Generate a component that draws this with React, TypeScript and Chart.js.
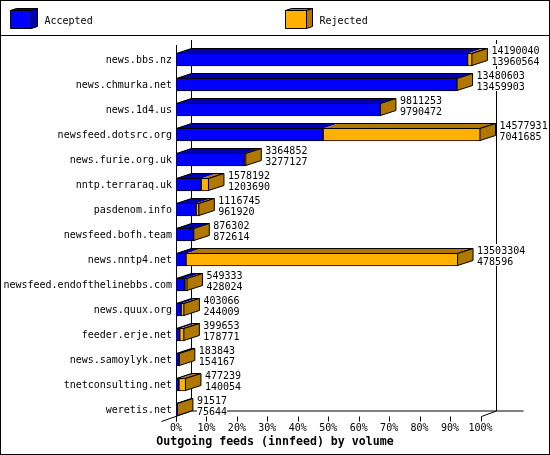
import React, { useEffect, useRef } from 'react';
import Chart from 'chart.js/auto';

const feeds = [
  'news.bbs.nz', 'news.chmurka.net', 'news.1d4.us', 'newsfeed.dotsrc.org', 'news.furie.org.uk',
  'nntp.terraraq.uk', 'pasdenom.info', 'newsfeed.bofh.team', 'news.nntp4.net',
  'newsfeed.endofthelinebbs.com', 'news.quux.org', 'feeder.erje.net', 'news.samoylyk.net',
  'tnetconsulting.net', 'weretis.net',
];

// upper number next to each bar
const offered = [
  14190040, 13480603, 9811253, 14577931, 3364852, 1578192, 1116745, 876302, 13503304,
  549333, 403066, 399653, 183843, 477239, 91517,
];

// lower number next to each bar
const accepted = [
  13960564, 13459903, 9790472, 7041685, 3277127, 1203690, 961920, 872614, 478596,
  428024, 244009, 178771, 154167, 140054, 75644,
];

const rejected = [
  229476, 20700, 20781, 7536246, 87725, 374502, 154825, 3688, 13024708,
  121309, 159057, 220882, 29676, 337185, 15873,
];

const tickPercents = [0, 10, 20, 30, 40, 50, 60, 70, 80, 90, 100];
const maxVolume = 14577931;

const BLUE = '#0000ff';
const BLUE_DARK = '#0000b0';
const ORANGE = '#ffb000';
const BROWN = '#b07800';
const FONT = '10px "DejaVu Sans Mono"';

// how far the back wall sits from the front of the bars
const DEPTH_X = 15;
const DEPTH_Y = 5;

const poly = (ctx: CanvasRenderingContext2D, pts: number[][], fill?: string, stroke?: boolean) => {
  ctx.beginPath();
  pts.forEach(([x, y], i) => (i ? ctx.lineTo(x, y) : ctx.moveTo(x, y)));
  ctx.closePath();
  if (fill) {
    ctx.fillStyle = fill;
    ctx.fill();
  }
  if (stroke) {
    ctx.strokeStyle = '#000';
    ctx.lineWidth = 1;
    ctx.stroke();
  }
};

const line = (ctx: CanvasRenderingContext2D, x1: number, y1: number, x2: number, y2: number) => {
  ctx.beginPath();
  ctx.moveTo(x1, y1);
  ctx.lineTo(x2, y2);
  ctx.strokeStyle = '#000';
  ctx.lineWidth = 1;
  ctx.stroke();
};

const legendBox = (ctx: CanvasRenderingContext2D, x: number, front: string, dark: string, label: string) => {
  const top = 10.5;
  const bottom = 28.5;
  const right = x + 21;
  poly(ctx, [[x, top], [x + 6, top - 2], [right + 6, top - 2], [right, top]], dark, true);
  poly(ctx, [[right, top], [right + 6, top - 2], [right + 6, bottom - 2], [right, bottom]], dark, true);
  poly(ctx, [[x, top], [right, top], [right, bottom], [x, bottom]], front, true);
  ctx.fillStyle = '#000';
  ctx.font = FONT;
  ctx.textAlign = 'left';
  ctx.textBaseline = 'middle';
  ctx.fillText(label, x + 34, 21);
};

const framePlugin = {
  id: 'frame',
  beforeDraw(chart: any) {
    const { ctx, width, height } = chart;
    ctx.save();
    ctx.fillStyle = '#fff';
    ctx.fillRect(0, 0, width, height);
    ctx.strokeStyle = '#000';
    ctx.lineWidth = 1;
    ctx.strokeRect(0.5, 0.5, width - 1, height - 1);
    line(ctx, 0, 35.5, width, 35.5);
    legendBox(ctx, 10.5, BLUE, BLUE_DARK, 'Accepted');
    legendBox(ctx, 285.5, ORANGE, BROWN, 'Rejected');
    ctx.restore();
  },
  beforeDatasetsDraw(chart: any) {
    const { ctx, chartArea, scales } = chart;
    const left = Math.round(chartArea.left) + 0.5;
    const right = Math.round(chartArea.right) + 0.5;
    const floor = Math.round(chartArea.bottom) - 6 + 0.5;
    const backFloor = floor - DEPTH_Y - 0.5;
    const wallTop = chartArea.top - 7;
    ctx.save();
    line(ctx, left, wallTop + 5, left, floor + 5);
    line(ctx, left + DEPTH_X, wallTop, left + DEPTH_X, backFloor);
    line(ctx, right + DEPTH_X, wallTop, right + DEPTH_X, backFloor);
    line(ctx, left + DEPTH_X, backFloor, right + DEPTH_X + 27, backFloor);
    line(ctx, left - DEPTH_X, floor + 5, left + DEPTH_X, backFloor);
    line(ctx, right, floor, right + DEPTH_X, backFloor);
    tickPercents.forEach((p) => {
      const x = Math.round(scales.x.getPixelForValue((p / 100) * maxVolume)) + 0.5;
      line(ctx, x, floor, x, floor + 5);
    });
    ctx.restore();
  },
  afterDatasetsDraw(chart: any) {
    const { ctx, scales } = chart;
    ctx.save();
    feeds.forEach((_, i) => {
      const yc = scales.y.getPixelForValue(i);
      const t = yc - 6.5;
      const b = yc + 6.5;
      const x0 = scales.x.getPixelForValue(0);
      const x1 = scales.x.getPixelForValue(accepted[i]);
      const x2 = scales.x.getPixelForValue(accepted[i] + rejected[i]);
      const yt = t + 0.5;
      const yb = t - DEPTH_Y + 0.5;
      poly(ctx, [[x0, yt], [x0 + DEPTH_X, yb], [x1 + DEPTH_X, yb], [x1, yt]], BLUE_DARK);
      poly(ctx, [[x1, yt], [x1 + DEPTH_X, yb], [x2 + DEPTH_X, yb], [x2, yt]], BROWN);
      poly(ctx, [[x0 + 0.5, yt], [x0 + DEPTH_X + 0.5, yb], [x2 + DEPTH_X, yb], [x2 - 0.5, yt]], undefined, true);
      poly(ctx, [[x2 - 0.5, yt], [x2 + DEPTH_X, yb], [x2 + DEPTH_X, b - DEPTH_Y - 0.5], [x2 - 0.5, b - 0.5]], BROWN, true);

      // numbers sit on a white box that hides the wall lines behind them
      const tx = x2 + DEPTH_X + 4;
      ctx.font = FONT;
      const w = Math.max(ctx.measureText(String(offered[i])).width, ctx.measureText(String(accepted[i])).width);
      ctx.fillStyle = '#fff';
      ctx.fillRect(tx, yc - 15.5, w, 22);
      ctx.fillStyle = '#000';
      ctx.textAlign = 'left';
      ctx.textBaseline = 'middle';
      ctx.fillText(String(offered[i]), tx, yc - 8.5);
      ctx.fillText(String(accepted[i]), tx, yc + 2.5);
    });
    ctx.restore();
  },
};

export default function App() {
  const chartRef = useRef<HTMLCanvasElement | null>(null);

  useEffect(() => {
    if (!chartRef.current) return;
    const chart = new Chart(chartRef.current, {
      type: 'bar',
      data: {
        labels: feeds,
        datasets: [
          { label: 'Accepted', data: accepted, backgroundColor: BLUE },
          { label: 'Rejected', data: rejected, backgroundColor: ORANGE },
        ],
      },
      options: {
        indexAxis: 'y',
        responsive: false,
        animation: false,
        devicePixelRatio: 1,
        barThickness: 13,
        borderColor: '#000',
        borderWidth: 1,
        borderSkipped: false,
        layout: { padding: { top: 47, right: 0, left: 0, bottom: 0 } },
        plugins: {
          legend: { display: false },
          tooltip: { enabled: false },
          title: {
            display: true,
            position: 'bottom',
            text: 'Outgoing feeds (innfeed) by volume',
            color: '#000',
            font: { family: 'DejaVu Sans Mono', size: 11.6, weight: 'bold' },
            padding: { top: 0, bottom: 6 },
          },
        },
        scales: {
          x: {
            stacked: true,
            min: 0,
            max: maxVolume,
            grid: { display: false, drawTicks: false },
            border: { display: false },
            afterBuildTicks: (axis: any) => {
              axis.ticks = tickPercents.map((p) => ({ value: (p / 100) * maxVolume }));
            },
            afterFit: (axis: any) => {
              axis.height = 13.08;
              // room on the right for the numbers, without moving the centred title
              axis.paddingRight = 69.5;
            },
            ticks: {
              autoSkip: false,
              maxRotation: 0,
              padding: 0,
              color: '#000',
              font: { family: 'DejaVu Sans Mono', size: 10 },
              callback: (v: any) => `${Math.round((v / maxVolume) * 100)}%`,
            },
          },
          y: {
            stacked: true,
            grid: { display: false, drawTicks: false },
            border: { display: false },
            afterFit: (axis: any) => {
              axis.width = 176;
            },
            ticks: {
              autoSkip: false,
              padding: 4,
              labelOffset: 1,
              color: '#000',
              font: { family: 'DejaVu Sans Mono', size: 10 },
            },
          },
        },
      } as any,
      plugins: [framePlugin],
    });
    return () => chart.destroy();
  }, []);

  return (
    <div style={{ position: 'absolute', left: 0, top: 0, width: 550, height: 455 }}>
      <canvas ref={chartRef} width={550} height={455} style={{ display: 'block' }} />
    </div>
  );
}
